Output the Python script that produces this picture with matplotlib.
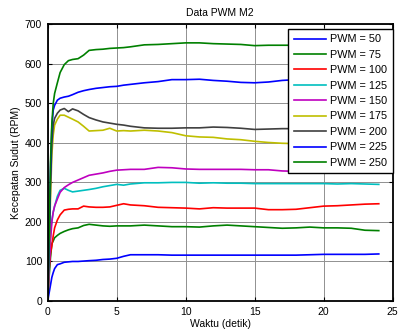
import matplotlib
matplotlib.use("Agg")
import matplotlib.pyplot as plt

plt.rcParams['font.family'] = ['Liberation Sans', 'DejaVu Sans']

# waktu (detik)
t = [0, 0.1, 0.2, 0.3, 0.4, 0.5, 0.7, 0.9, 1.2, 1.5, 1.8, 2.2, 2.6, 3, 3.5, 4, 4.5, 5, 5.5, 6,
     7, 8, 9, 10, 11, 12, 13, 14, 15, 16, 17, 18, 19, 20, 21, 22, 23, 24]

pwm50 = [0, 20, 40, 60, 72, 82, 92, 94, 98, 99, 100, 100, 101, 102, 103, 105, 106, 108, 113, 117,
         117, 117, 116, 116, 116, 116, 116, 116, 116, 116, 116, 116, 117, 118, 118, 118, 118, 119]
pwm75 = [0, 60, 110, 145, 152, 160, 166, 171, 176, 180, 183, 185, 191, 194, 192, 190, 189, 190, 190, 190,
         192, 190, 188, 188, 187, 190, 192, 190, 188, 186, 184, 185, 187, 185, 185, 184, 179, 178]
pwm100 = [0, 80, 120, 140, 165, 185, 205, 218, 230, 232, 233, 233, 240, 238, 237, 237, 238, 242, 246, 243,
          241, 237, 236, 235, 233, 236, 235, 235, 235, 231, 231, 232, 236, 240, 241, 243, 245, 246]
pwm125 = [0, 100, 170, 205, 225, 240, 265, 280, 285, 280, 276, 278, 280, 282, 285, 289, 292, 295, 293, 296,
          299, 299, 300, 300, 298, 299, 298, 298, 297, 297, 297, 297, 297, 297, 296, 297, 296, 295]
pwm150 = [0, 80, 150, 200, 225, 240, 258, 275, 287, 294, 300, 306, 312, 318, 321, 324, 328, 331, 332, 333,
          333, 338, 337, 334, 333, 333, 333, 333, 332, 332, 329, 328, 327, 326, 326, 326, 325, 325]
pwm175 = [0, 120, 260, 370, 420, 445, 460, 470, 470, 465, 460, 453, 442, 430, 431, 432, 437, 430, 431, 430,
          432, 430, 426, 418, 415, 414, 410, 408, 404, 401, 399, 398, 397, 396, 395, 395, 394, 394]
pwm200 = [0, 130, 290, 400, 445, 462, 475, 483, 487, 479, 486, 481, 472, 464, 458, 453, 450, 447, 445, 442,
          438, 437, 437, 438, 438, 440, 439, 437, 434, 435, 436, 436, 436, 436, 436, 436, 436, 436]
pwm225 = [0, 150, 330, 440, 483, 495, 508, 513, 516, 518, 522, 528, 532, 535, 538, 540, 542, 543, 546, 548,
          552, 555, 560, 560, 561, 558, 556, 553, 552, 554, 558, 560, 560, 560, 560, 560, 560, 560]
pwm250 = [0, 160, 350, 450, 500, 525, 552, 578, 598, 608, 611, 613, 622, 634, 636, 637, 639, 640, 641, 643,
          648, 649, 651, 653, 653, 651, 650, 649, 646, 647, 647, 647, 647, 647, 647, 647, 647, 647]

labels = ['PWM = 50', 'PWM = 75', 'PWM = 100', 'PWM = 125', 'PWM = 150',
          'PWM = 175', 'PWM = 200', 'PWM = 225', 'PWM = 250']
series = [pwm50, pwm75, pwm100, pwm125, pwm150, pwm175, pwm200, pwm225, pwm250]
colors = ['#0000ff', '#008000', '#ff0000', '#00bfbf', '#bf00bf',
          '#bfbf00', '#404040', '#0000ff', '#008000']

fig = plt.figure(figsize=(4.01, 3.35), dpi=100)
ax = fig.add_axes([0.119, 0.1015, 0.860, 0.826])

for y, lab, c in zip(series, labels, colors):
    ax.plot(t, y, color=c, lw=1.2, label=lab)

ax.set_xlim(0, 25)
ax.set_ylim(0, 700)
ax.set_xticks(range(0, 26, 5))
ax.set_yticks(range(0, 701, 100))
ax.grid(True, color='#909090', lw=0.7)
ax.set_axisbelow(True)
ax.tick_params(direction='in', top=True, right=True, labelsize=7.5, length=3, width=0.8, pad=4)
for s in ax.spines.values():
    s.set_linewidth(1.3)

ax.set_title('Data PWM M2', fontsize=7.5, pad=6)
ax.set_xlabel('Waktu (detik)', fontsize=7.5, labelpad=2)
ax.set_ylabel('Kecepatan Sudut (RPM)', fontsize=7.5, labelpad=3)

leg = ax.legend(loc='upper right', bbox_to_anchor=(1.0, 0.983), borderaxespad=0,
                fontsize=7.8, fancybox=False, framealpha=1, edgecolor='black',
                handlelength=3.0, handletextpad=0.35, labelspacing=0.5, borderpad=0.5)
leg.get_frame().set_linewidth(1.0)

fig.savefig('out.png', dpi=100)
